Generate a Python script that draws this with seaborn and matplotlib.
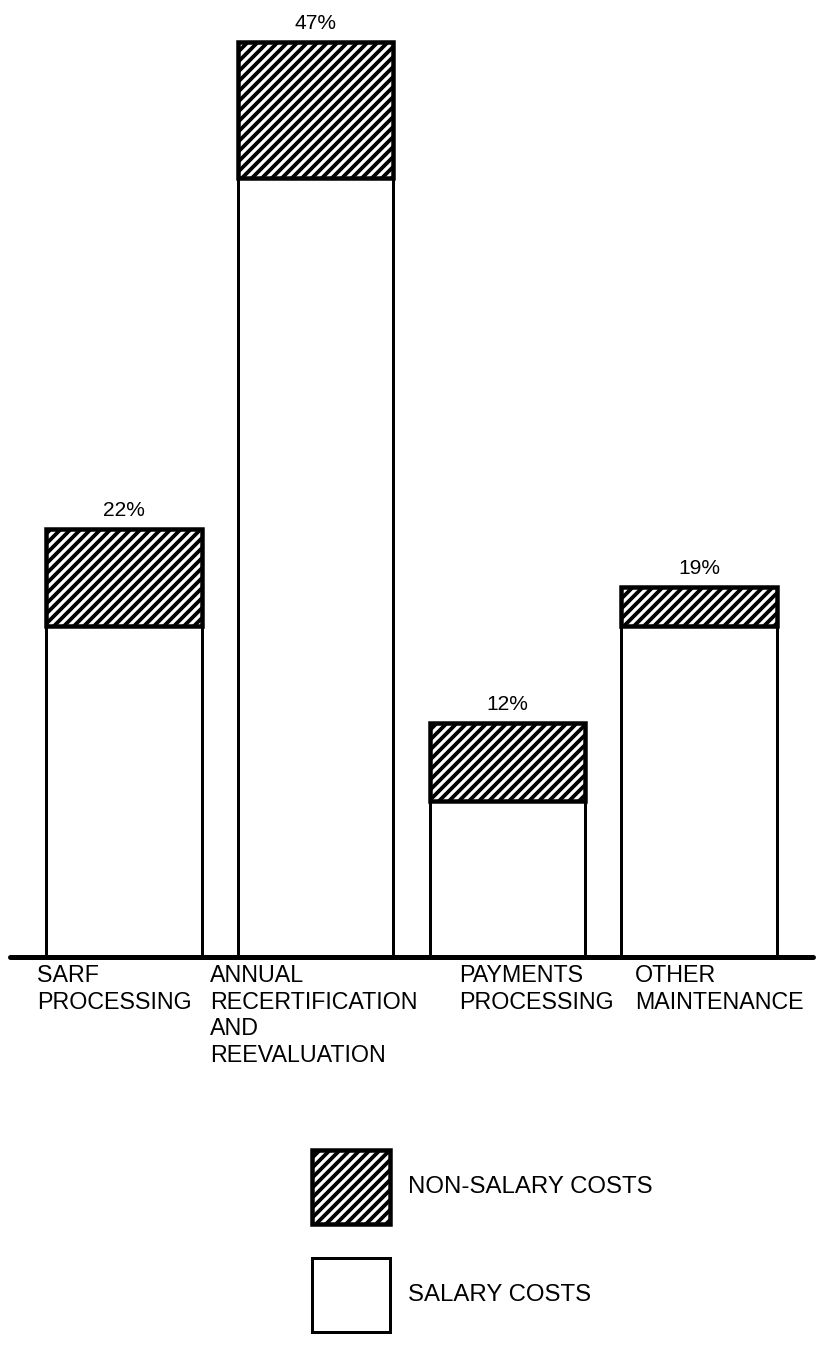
import matplotlib
matplotlib.use("Agg")
import matplotlib.pyplot as plt
import seaborn as sns
import pandas as pd

# Cost breakdown by maintenance activity (percent of total cost)
categories = [
    "SARF\nPROCESSING",
    "ANNUAL\nRECERTIFICATION\nAND\nREEVALUATION",
    "PAYMENTS\nPROCESSING",
    "OTHER\nMAINTENANCE",
]
salary_costs = [17, 40, 8, 17]
non_salary_costs = [5, 7, 4, 2]
series_labels = ["SALARY COSTS", "NON-SALARY COSTS"]

DPI = 120
W, H = 822, 1346


def pt(px):
    """Convert a pixel length to points at the output resolution."""
    return px * 72 / DPI


sns.set_style("white")
plt.rcParams["font.family"] = ["Liberation Sans", "DejaVu Sans"]
plt.rcParams["text.color"] = "black"
plt.rcParams["hatch.linewidth"] = pt(3.8)
plt.rcParams["hatch.color"] = "black"

fig = plt.figure(figsize=(W / DPI, H / DPI), dpi=DPI)
fig.patch.set_facecolor("white")

base_y = 957  # pixel row of the baseline
ax = fig.add_axes([10 / W, (H - base_y) / H, 803 / W, base_y / H])

df = pd.DataFrame({
    "category": categories,
    "salary": salary_costs,
    "non_salary": non_salary_costs,
})
df["total"] = df["salary"] + df["non_salary"]

bar_width = 0.81
sns.barplot(data=df, x="category", y="salary", color="white", saturation=1,
            edgecolor="black", linewidth=pt(3), width=bar_width,
            errorbar=None, label=series_labels[0], ax=ax)
sns.barplot(data=df, x="category", y="non_salary",
            bottom=df["salary"].to_numpy(), color="white", saturation=1,
            edgecolor="black", linewidth=pt(4.5), hatch="////",
            width=bar_width, errorbar=None, label=series_labels[1], ax=ax)

if ax.get_legend() is not None:
    ax.get_legend().remove()

ax.set_xlim(-0.595, 3.595)
ax.set_ylim(0, 49.16)
ax.set_axis_off()

# heavy baseline
ax.axhline(0, color="black", lw=pt(5), clip_on=False, zorder=5)

# percentage above each stacked bar
for i, tot in enumerate(df["total"]):
    ax.annotate(f"{tot}%", xy=(i, tot), xytext=(0, pt(9)),
                textcoords="offset points", ha="center", va="bottom",
                fontsize=pt(21), color="black")

# category names under the baseline, left aligned
label_dx = [-0.454, -0.55, -0.253, -0.334]
for i, (cat, dx) in enumerate(zip(categories, label_dx)):
    ax.annotate(cat, xy=(i + dx, 0), xytext=(0, -pt(7)),
                textcoords="offset points", ha="left", va="top",
                fontsize=pt(23.3), linespacing=1.2, color="black",
                annotation_clip=False)

handles, labels = ax.get_legend_handles_labels()
fs = 24
fig.legend(handles[::-1], labels[::-1], loc="upper left",
           bbox_to_anchor=(312 / W, 1 - 1150 / H), frameon=False,
           fontsize=pt(fs), labelcolor="black",
           handlelength=78 / fs, handleheight=88 / fs + 0.7,
           handletextpad=18 / fs, labelspacing=34 / fs,
           borderpad=0, borderaxespad=0)

fig.savefig("out.png", dpi=DPI, facecolor="white")
